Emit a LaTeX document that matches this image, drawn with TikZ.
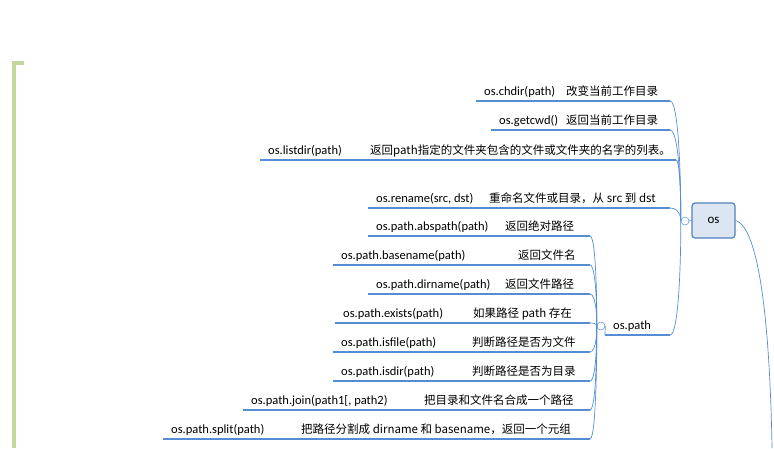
\documentclass[tikz,border=0pt]{standalone}
\usepackage{fontspec}
\setmainfont{Carlito}
\newfontfamily\cjk{Noto Sans CJK SC}
\begin{document}
\begin{tikzpicture}[x=1pt,y=-1pt,
  lbl/.style={anchor=base west,inner sep=0pt,font=\fontsize{12.5}{13}\selectfont},
  cn/.style={anchor=base west,inner sep=0pt,font=\fontsize{11.5}{13}\cjk},
  uline/.style={line width=2pt,color={rgb,255:red,84;green,141;blue,212}},
  conn/.style={draw={rgb,255:red,84;green,141;blue,212},line width=0.7pt},
  junc/.style={circle,draw={rgb,255:red,84;green,141;blue,212},fill=white,minimum size=8pt,inner sep=0pt,line width=0.5pt}]
\useasboundingbox (0,0) rectangle (774,448);
\draw[line width=3.5pt,color={rgb,255:red,195;green,214;blue,155}] (24,63) -- (14,63) -- (14,448);
\node[draw={rgb,255:red,79;green,129;blue,189},fill={rgb,255:red,220;green,230;blue,242},rounded corners=3pt,line width=1.2pt,minimum width=43pt,minimum height=35pt,font=\fontsize{13}{14}\selectfont] (os) at (713.5,220.5) {os};
\coordinate (tail) at (772,448);
\draw[conn] (os.east) .. controls (760,228) and (770,330) .. (tail);
\node[junc] (j1) at (685,221) {};
\node[junc] (j2) at (601,326) {};
\draw[conn] (j1.east) -- (os.west);
\foreach \y/\a/\b/\tx/\ctx/\cx [count=\i] in {
  101/476/670/{os.chdir(path)}/{改变当前工作目录}/566,
  130/491/670/{os.getcwd()}/{返回当前工作目录}/566,
  160/260/676/{os.listdir(path)}/{返回path指定的文件夹包含的文件或文件夹的名字的列表。}/370,
  208/368/670/{os.rename(src, dst)}/{重命名文件或目录，从 src 到 dst}/489,
  335/605/670/{os.path}/{}/620}{
  \coordinate (s\i) at (\a,\y);
  \coordinate (e\i) at (\b,\y);
  \draw[uline] (s\i) -- (e\i);
  \node[lbl] (t\i) at (\a+8,\y-6) {\tx};
  \node[cn] (c\i) at (\cx,\y-6) {\ctx};
  \draw[conn] (j1.west) .. controls (681,221) and (681,\y) .. (e\i);
}
\foreach \y/\a/\tx/\ctx/\cx [count=\i] in {
  236/368/{os.path.abspath(path)}/{返回绝对路径}/505,
  265/333/{os.path.basename(path)}/{返回文件名}/518,
  294/368/{os.path.dirname(path)}/{返回文件路径}/505,
  323/335/{os.path.exists(path)}/{如果路径 path 存在}/473,
  352/333/{os.path.isfile(path)}/{判断路径是否为文件}/472,
  381/333/{os.path.isdir(path)}/{判断路径是否为目录}/472,
  410/243/{os.path.join(path1[, path2)}/{把目录和文件名合成一个路径}/424,
  439/163/{os.path.split(path)}/{把路径分割成 dirname 和 basename，返回一个元组}/301}{
  \coordinate (ps\i) at (\a,\y);
  \coordinate (pe\i) at (590,\y);
  \draw[uline] (ps\i) -- (pe\i);
  \node[lbl] (pt\i) at (\a+8,\y-6) {\tx};
  \node[cn] (pc\i) at (\cx,\y-6) {\ctx};
  \draw[conn] (j2.west) .. controls (597,326) and (597,\y) .. (pe\i);
}
\draw[conn] (j2.east) -- (s5);
\end{tikzpicture}
\end{document}
